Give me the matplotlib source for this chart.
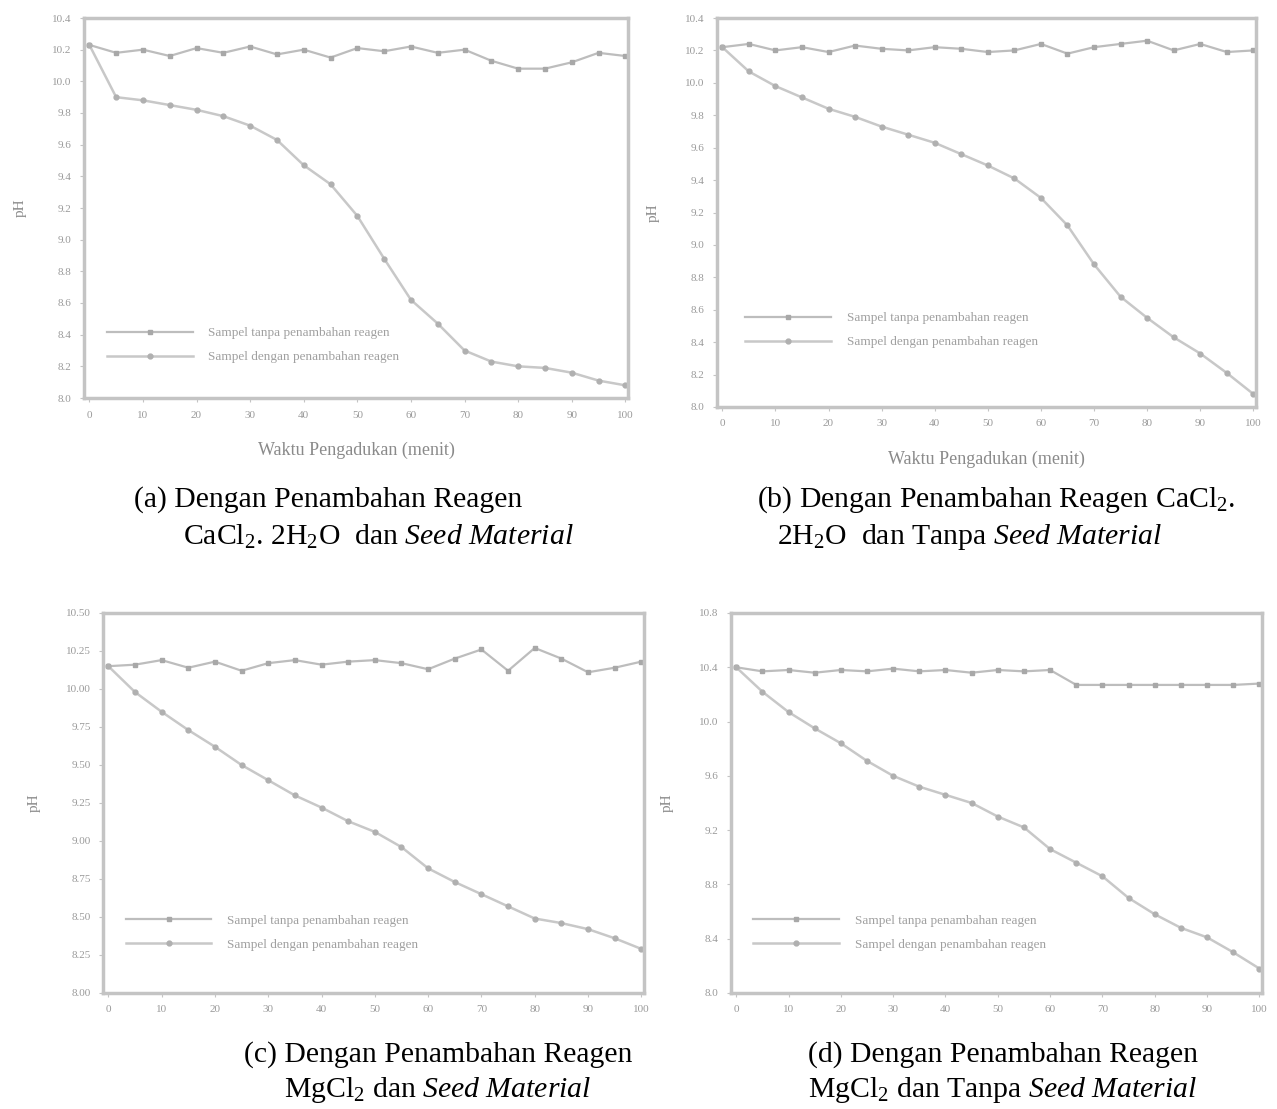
import matplotlib
matplotlib.use("Agg")
import matplotlib.pyplot as plt

plt.rcParams['font.family'] = ['Liberation Serif', 'DejaVu Serif']
plt.rcParams['mathtext.fontset'] = 'custom'
plt.rcParams['mathtext.rm'] = 'Liberation Serif'
plt.rcParams['mathtext.it'] = 'Liberation Serif:italic'

# ---- data ----
waktu = [0, 5, 10, 15, 20, 25, 30, 35, 40, 45, 50, 55, 60, 65, 70, 75, 80, 85, 90, 95, 100]

kontrol_a = [10.23, 10.18, 10.20, 10.16, 10.21, 10.18, 10.22, 10.17, 10.20, 10.15, 10.21,
             10.19, 10.22, 10.18, 10.20, 10.13, 10.08, 10.08, 10.12, 10.18, 10.16]
reagen_a = [10.23, 9.90, 9.88, 9.85, 9.82, 9.78, 9.72, 9.63, 9.47, 9.35, 9.15,
            8.88, 8.62, 8.47, 8.30, 8.23, 8.20, 8.19, 8.16, 8.11, 8.08]

kontrol_b = [10.22, 10.24, 10.20, 10.22, 10.19, 10.23, 10.21, 10.20, 10.22, 10.21, 10.19,
             10.20, 10.24, 10.18, 10.22, 10.24, 10.26, 10.20, 10.24, 10.19, 10.20]
reagen_b = [10.22, 10.07, 9.98, 9.91, 9.84, 9.79, 9.73, 9.68, 9.63, 9.56, 9.49,
            9.41, 9.29, 9.12, 8.88, 8.68, 8.55, 8.43, 8.33, 8.21, 8.08]

kontrol_c = [10.15, 10.16, 10.19, 10.14, 10.18, 10.12, 10.17, 10.19, 10.16, 10.18, 10.19,
             10.17, 10.13, 10.20, 10.26, 10.12, 10.27, 10.20, 10.11, 10.14, 10.18]
reagen_c = [10.15, 9.98, 9.85, 9.73, 9.62, 9.50, 9.40, 9.30, 9.22, 9.13, 9.06,
            8.96, 8.82, 8.73, 8.65, 8.57, 8.49, 8.46, 8.42, 8.36, 8.29]

kontrol_d = [10.40, 10.37, 10.38, 10.36, 10.38, 10.37, 10.39, 10.37, 10.38, 10.36, 10.38,
             10.37, 10.38, 10.27, 10.27, 10.27, 10.27, 10.27, 10.27, 10.27, 10.28]
reagen_d = [10.40, 10.22, 10.07, 9.95, 9.84, 9.71, 9.60, 9.52, 9.46, 9.40, 9.30,
            9.22, 9.06, 8.96, 8.86, 8.70, 8.58, 8.48, 8.41, 8.30, 8.18]

x_ticks = [0, 10, 20, 30, 40, 50, 60, 70, 80, 90, 100]
y_ticks_ab = [8.0, 8.2, 8.4, 8.6, 8.8, 9.0, 9.2, 9.4, 9.6, 9.8, 10.0, 10.2, 10.4]
y_ticks_c = [8.0, 8.25, 8.5, 8.75, 9.0, 9.25, 9.5, 9.75, 10.0, 10.25, 10.5]
y_ticks_d = [8.0, 8.4, 8.8, 9.2, 9.6, 10.0, 10.4, 10.8]

label_kontrol = "Sampel tanpa penambahan reagen"
label_reagen = "Sampel dengan penambahan reagen"
x_label = "Waktu Pengadukan (menit)"
y_label = "pH"

captions = [
    ("(a) Dengan Penambahan Reagen", r"CaCl$_2$. 2H$_2$O  dan $\mathit{Seed\ Material}$"),
    (r"(b) Dengan Penambahan Reagen CaCl$_2$.", r"2H$_2$O  dan Tanpa $\mathit{Seed\ Material}$"),
    ("(c) Dengan Penambahan Reagen", r"MgCl$_2$ dan $\mathit{Seed\ Material}$"),
    ("(d) Dengan Penambahan Reagen", r"MgCl$_2$ dan Tanpa $\mathit{Seed\ Material}$"),
]

W, H = 1277, 1109
fig = plt.figure(figsize=(W / 100, H / 100), dpi=100)

def rect(l, r, t, b):
    return [l / W, 1 - b / H, (r - l) / W, (b - t) / H]

panels = [
    dict(rect=rect(84, 628, 18, 398), k=kontrol_a, r=reagen_a, yt=y_ticks_ab, xl=True,
         leg=(0.02, 0.06), cap=[(328, 500), (378, 537)]),
    dict(rect=rect(717, 1256, 18, 407), k=kontrol_b, r=reagen_b, yt=y_ticks_ab, xl=True,
         leg=(0.03, 0.12), cap=[(996, 500), (970, 537)]),
    dict(rect=rect(103, 644, 613, 993), k=kontrol_c, r=reagen_c, yt=y_ticks_c, xl=False,
         leg=(0.02, 0.08), cap=[(438, 1055), (438, 1090)]),
    dict(rect=rect(731, 1262, 613, 993), k=kontrol_d, r=reagen_d, yt=y_ticks_d, xl=False,
         leg=(0.02, 0.08), cap=[(1003, 1055), (1003, 1090)]),
]

grey_frame = '#c4c4c4'
grey_text = '#9a9a9a'

for p, cap in zip(panels, captions):
    ax = fig.add_axes(p['rect'])
    ax.plot(waktu, p['k'], color='#bdbdbd', lw=1.6, marker='s', ms=3.5,
            mfc='#a8a8a8', mec='#a8a8a8', label=label_kontrol)
    ax.plot(waktu, p['r'], color='#c8c8c8', lw=1.8, marker='o', ms=3.5,
            mfc='#b0b0b0', mec='#b0b0b0', label=label_reagen)
    ax.set_xlim(-1, 100.5)
    ax.set_ylim(p['yt'][0], p['yt'][-1])
    ax.set_xticks(x_ticks)
    ax.set_yticks(p['yt'])
    ax.tick_params(labelsize=8, colors=grey_frame, labelcolor=grey_text, length=3, pad=6)
    for s in ax.spines.values():
        s.set_color(grey_frame)
        s.set_linewidth(2.5)
    ax.set_ylabel(y_label, fontsize=11, color='#8a8a8a', labelpad=18)
    if p['xl']:
        ax.set_xlabel(x_label, fontsize=13, color='#8a8a8a', labelpad=16)
    ax.legend(loc='lower left', bbox_to_anchor=p['leg'], frameon=False,
              fontsize=9.5, labelcolor='#a0a0a0', handlelength=6.5,
              handletextpad=1.2, labelspacing=0.9)
    for (cx, cy), txt in zip(p['cap'], cap):
        fig.text(cx / W, 1 - cy / H, txt, fontsize=21.4, ha='center', va='center',
                 color='black')

fig.savefig('out.png', dpi=100, facecolor='white')
